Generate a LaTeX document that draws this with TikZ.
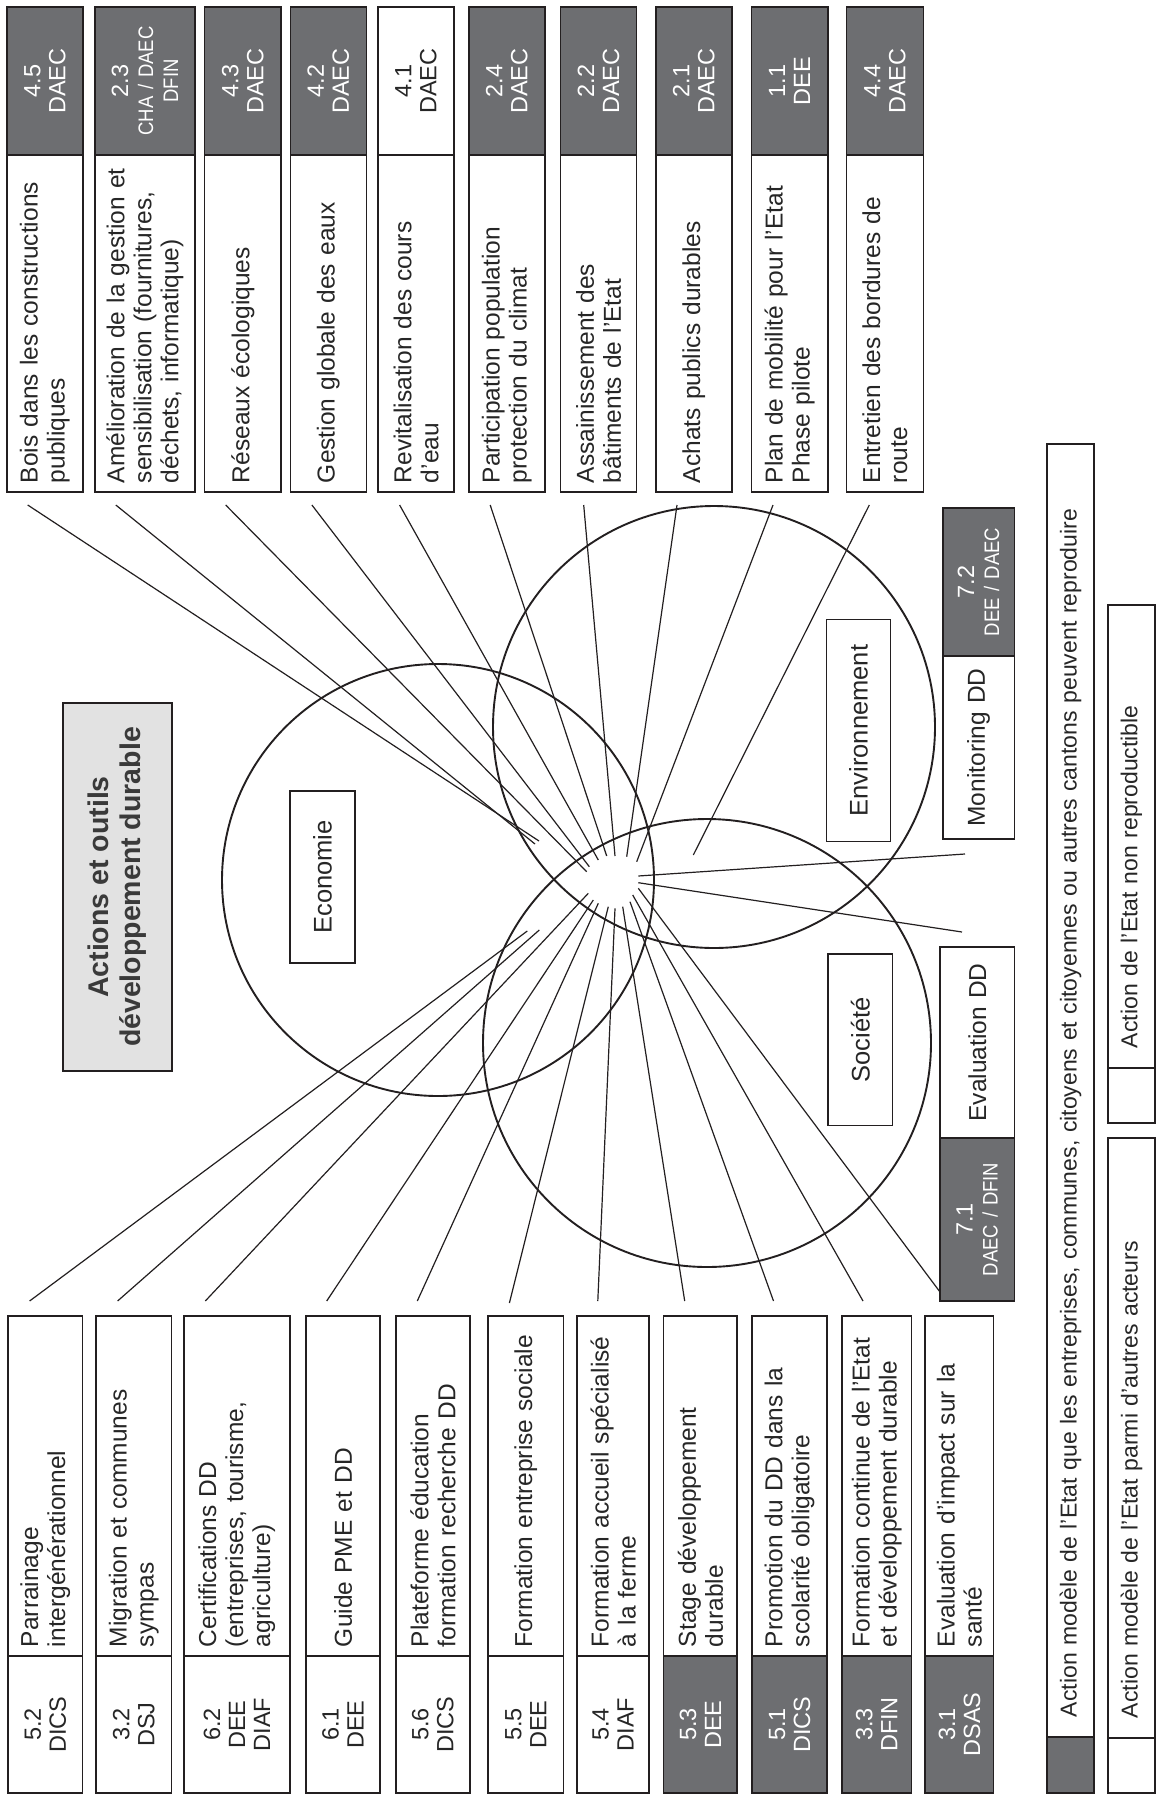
\documentclass[tikz,border=0pt]{standalone}
\usepackage{fontspec}
\setmainfont{Liberation Sans}
\usepackage{graphicx}
\definecolor{dgray}{HTML}{6D6E71}
\definecolor{edge}{HTML}{231F20}
\definecolor{txt}{HTML}{262626}
\definecolor{ttlfill}{HTML}{E2E2E2}
\definecolor{ttltxt}{HTML}{3A3A3A}
\newcommand{\bodyfont}{\fontsize{24.5}{27}\selectfont}
\newcommand{\labfont}{\fontsize{23.5}{25}\selectfont}
\newcommand{\legfont}{\fontsize{23}{26}\selectfont}
\newcommand{\ringfont}{\fontsize{25.5}{28}\selectfont}
\newcommand{\narrow}[1]{{\fontsize{21}{22}\selectfont\scalebox{0.88}[1]{#1}}}
\tikzset{
  boxbase/.style={rotate=90, draw=edge, line width=1.6pt, inner ysep=0pt, inner xsep=9pt},
  txtpart/.style={boxbase, fill=white, text=txt, align=left, font=\bodyfont},
  darkpart/.style={boxbase, fill=dgray, text=white, align=center, font=\labfont},
  lightpart/.style={boxbase, fill=white, text=txt, align=center, font=\labfont},
  legpart/.style={boxbase, fill=white, text=txt, align=left, font=\legfont},
  legdark/.style={boxbase, fill=dgray},
  legwhite/.style={boxbase, fill=white},
  ringlabel/.style={rotate=90, draw=edge, line width=1.3pt, fill=white, text=txt, font=\ringfont, inner sep=0pt},
  spoke/.style={draw=edge, line width=1.2pt},
  ring/.style={draw=edge, line width=1.9pt, circle, inner sep=0pt},
}
% #1 padding, #2 name, #3 style, #4 x1, #5 x2, #6 y1, #7 y2, #8 text
\newcommand{\boxpart}[8][9]{%
  \pgfmathsetmacro\bpcx{(#4+#5)/2}%
  \pgfmathsetmacro\bpcy{(#6+#7)/2}%
  \pgfmathsetmacro\bpw{#5-#4}%
  \pgfmathsetmacro\bph{#7-#6}%
  \pgfmathsetmacro\bptw{#7-#6-2*#1}%
  \node[#3, inner xsep=#1pt, minimum width=\bph pt, minimum height=\bpw pt, text width=\bptw pt] (#2) at (\bpcx,\bpcy) {#8};%
}
\begin{document}
\begin{tikzpicture}[x=1pt,y=-1pt]
\useasboundingbox (0,0) rectangle (1160,1801);
\fill[white] (0,0) rectangle (1160,1801);

% ---------- spoke end points ----------
\coordinate (o45) at (27.7,505);  \coordinate (i45) at (539,841);
\coordinate (o23) at (115.8,505); \coordinate (i23) at (535,844);
\coordinate (o43) at (225.7,505); \coordinate (i43) at (586.7,871.7);
\coordinate (o42) at (311.9,505); \coordinate (i42) at (589.3,866.7);
\coordinate (o41) at (399.6,505); \coordinate (i41) at (598.3,860);
\coordinate (o24) at (490.2,505); \coordinate (i24) at (606.7,856);
\coordinate (o22) at (583.7,505); \coordinate (i22) at (615,856);
\coordinate (o21) at (677,505);   \coordinate (i21) at (626.7,856.7);
\coordinate (o11) at (773,505);   \coordinate (i11) at (636.7,861.7);
\coordinate (o44) at (869.3,505); \coordinate (i44) at (693.3,855);

\coordinate (o52) at (29.6,1301);  \coordinate (i52) at (527.3,931);
\coordinate (o32) at (117.6,1301); \coordinate (i32) at (539.3,930);
\coordinate (o62) at (205.3,1301); \coordinate (i62) at (588.3,893.3);
\coordinate (o61) at (326.7,1301); \coordinate (i61) at (593.3,900);
\coordinate (o56) at (417.3,1301); \coordinate (i56) at (598.3,903.3);
\coordinate (o55) at (509.4,1303); \coordinate (i55) at (608.3,906.7);
\coordinate (o54) at (597.8,1301); \coordinate (i54) at (615,908.3);
\coordinate (o53) at (684.7,1301); \coordinate (i53) at (622.7,906.7);
\coordinate (o51) at (773.5,1301); \coordinate (i51) at (630,901.7);
\coordinate (o33) at (863,1301);   \coordinate (i33) at (632.7,895);
\coordinate (o31) at (940,1292);   \coordinate (i31) at (638.3,888.3);

\coordinate (o72) at (965,854);    \coordinate (i72) at (638.3,876);
\coordinate (o71) at (962,932);    \coordinate (i71) at (638.3,882.7);

\foreach \k in {45,23,43,42,41,24,22,21,11,44,52,32,62,61,56,55,54,53,51,33,31,72,71}
  \draw[spoke] (o\k) -- (i\k);

% ---------- circles ----------
\node[ring, minimum size=432pt] (cEco) at (438,880) {};
\node[ring, minimum size=442pt] (cEnv) at (714,727) {};
\node[ring, minimum size=448pt] (cSoc) at (707,1043) {};

% ---------- title and circle labels ----------
\node[draw=edge, line width=1.6pt, fill=ttlfill, rotate=90, minimum width=368pt, minimum height=109pt, inner sep=0pt, align=center, text=ttltxt, font=\fontsize{28.5}{32}\selectfont\bfseries] (title) at (117.5,887) {Actions et outils\\développement durable};
\node[ringlabel, minimum width=172pt, minimum height=65pt] (eco) at (322.4,877) {Economie};
\node[ringlabel, minimum width=222pt, minimum height=64.4pt] (env) at (858.6,730.5) {Environnement};
\node[ringlabel, minimum width=171.6pt, minimum height=64.6pt] (soc) at (860.3,1039.8) {Société};

% ---------- top boxes ----------
\boxpart{n45}{darkpart}{6.7}{82.9}{7}{155}{4.5\\DAEC}
\boxpart{a45}{txtpart}{6.7}{82.9}{155}{492}{Bois dans les constructions\\publiques}
\boxpart{n23}{darkpart}{94.7}{195}{7}{155}{2.3\\\narrow{CHA / DAEC}\\\narrow{DFIN}}
\boxpart{a23}{txtpart}{94.7}{195}{155}{492}{Amélioration de la gestion et\\sensibilisation (fournitures,\\déchets, informatique)}
\boxpart{n43}{darkpart}{204.6}{281.2}{7}{155}{4.3\\DAEC}
\boxpart{a43}{txtpart}{204.6}{281.2}{155}{492}{Réseaux écologiques}
\boxpart{n42}{darkpart}{290.4}{366.3}{7}{155}{4.2\\DAEC}
\boxpart{a42}{txtpart}{290.4}{366.3}{155}{492}{Gestion globale des eaux}
\boxpart{n41}{lightpart}{378.1}{453.9}{7}{155}{4.1\\DAEC}
\boxpart{a41}{txtpart}{378.1}{453.9}{155}{492}{Revitalisation des cours\\d’eau}
\boxpart{n24}{darkpart}{468.7}{545}{7}{155}{2.4\\DAEC}
\boxpart{a24}{txtpart}{468.7}{545}{155}{492}{Participation population\\protection du climat}
\boxpart{n22}{darkpart}{560.5}{636.6}{7}{155}{2.2\\DAEC}
\boxpart{a22}{txtpart}{560.5}{636.6}{155}{492}{Assainissement des\\bâtiments de l’Etat}
\boxpart{n21}{darkpart}{655.8}{731.7}{7}{155}{2.1\\DAEC}
\boxpart{a21}{txtpart}{655.8}{731.7}{155}{492}{Achats publics durables}
\boxpart{n11}{darkpart}{751.3}{827.9}{7}{155}{1.1\\DEE}
\boxpart{a11}{txtpart}{751.3}{827.9}{155}{492}{Plan de mobilité pour l’Etat\\Phase pilote}
\boxpart{n44}{darkpart}{846.4}{923.3}{7}{155}{4.4\\DAEC}
\boxpart{a44}{txtpart}{846.4}{923.3}{155}{492}{Entretien des bordures de\\route}

% ---------- bottom boxes ----------
\boxpart{a52}{txtpart}{8.1}{82.5}{1316}{1656}{Parrainage\\intergénérationnel}
\boxpart{n52}{lightpart}{8.1}{82.5}{1656}{1793}{5.2\\DICS}
\boxpart{a32}{txtpart}{96.2}{171.3}{1316}{1656}{Migration et communes\\sympas}
\boxpart{n32}{lightpart}{96.2}{171.3}{1656}{1793}{3.2\\DSJ}
\boxpart{a62}{txtpart}{183.9}{289.7}{1316}{1656}{Certifications DD\\(entreprises, tourisme,\\agriculture)}
\boxpart{n62}{lightpart}{183.9}{289.7}{1656}{1793}{6.2\\DEE\\DIAF}
\boxpart{a61}{txtpart}{306}{380}{1316}{1656}{Guide PME et DD}
\boxpart{n61}{lightpart}{306}{380}{1656}{1793}{6.1\\DEE}
\boxpart{a56}{txtpart}{395.9}{469.8}{1316}{1656}{Plateforme éducation\\formation recherche DD}
\boxpart{n56}{lightpart}{395.9}{469.8}{1656}{1793}{5.6\\DICS}
\boxpart{a55}{txtpart}{488}{563.4}{1316}{1656}{Formation entreprise sociale}
\boxpart{n55}{lightpart}{488}{563.4}{1656}{1793}{5.5\\DEE}
\boxpart{a54}{txtpart}{577.1}{649.2}{1316}{1656}{Formation accueil spécialisé\\à la ferme}
\boxpart{n54}{lightpart}{577.1}{649.2}{1656}{1793}{5.4\\DIAF}
\boxpart{a53}{txtpart}{663.6}{737.2}{1316}{1656}{Stage développement\\durable}
\boxpart{n53}{darkpart}{663.6}{737.2}{1656}{1793}{5.3\\DEE}
\boxpart{a51}{txtpart}{752}{827.1}{1316}{1656}{Promotion du DD dans la\\scolarité obligatoire}
\boxpart{n51}{darkpart}{752}{827.1}{1656}{1793}{5.1\\DICS}
\boxpart{a33}{txtpart}{842}{911.5}{1316}{1656}{Formation continue de l’Etat\\et développement durable}
\boxpart{n33}{darkpart}{842}{911.5}{1656}{1793}{3.3\\DFIN}
\boxpart{a31}{txtpart}{925.2}{993.6}{1316}{1656}{Evaluation d’impact sur la\\santé}
\boxpart{n31}{darkpart}{925.2}{993.6}{1656}{1793}{3.1\\DSAS}

% ---------- tools 7.1 / 7.2 ----------
\boxpart{n72}{darkpart}{942.7}{1014.3}{508}{656}{7.2\\\narrow{DEE / DAEC}}
\boxpart{a72}{txtpart, align=center}{942.7}{1014.3}{656}{839}{Monitoring DD}
\boxpart{a71}{txtpart, align=center}{940}{1014.5}{947}{1138}{Evaluation DD}
\boxpart{n71}{darkpart}{940}{1014.5}{1138}{1301}{7.1\\\narrow{DAEC / DFIN}}

% ---------- legend ----------
\boxpart[20]{l1}{legpart}{1047}{1094}{444}{1737}{Action modèle de l’Etat que les entreprises, communes, citoyens et citoyennes ou autres cantons peuvent reproduire}
\boxpart{l1s}{legdark}{1047}{1094}{1737}{1793}{}
\boxpart[20]{l2}{legpart}{1108}{1155}{1138}{1738}{Action modèle de l’Etat parmi d’autres acteurs}
\boxpart{l2s}{legwhite}{1108}{1155}{1738}{1793}{}
\boxpart[20]{l3}{legpart}{1108}{1155}{605}{1068}{Action de l’Etat non reproductible}
\boxpart{l3s}{legwhite}{1108}{1155}{1068}{1123}{}
\end{tikzpicture}
\end{document}
